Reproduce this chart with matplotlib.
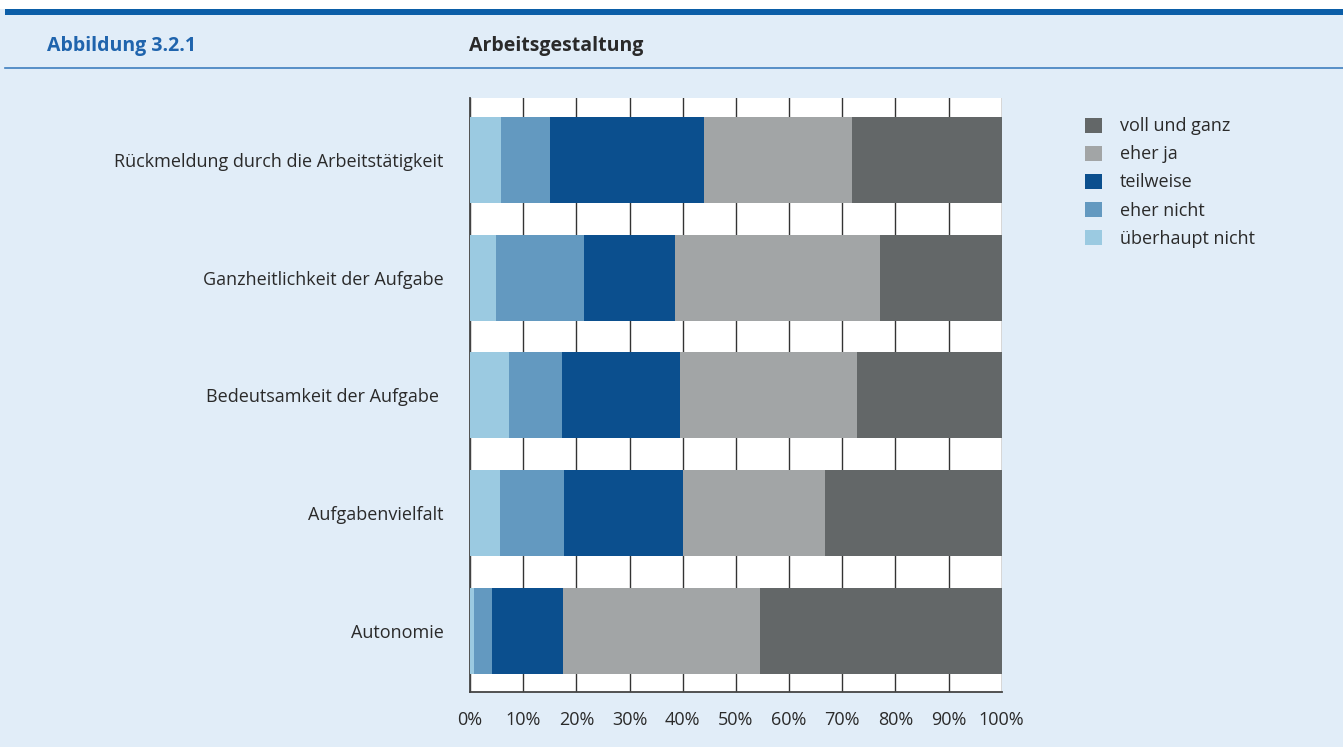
import matplotlib
matplotlib.use("Agg")
import matplotlib.pyplot as plt
from matplotlib.patches import Rectangle
from matplotlib.lines import Line2D

plt.rcParams['font.family'] = ['Open Sans', 'DejaVu Sans']

categories = ["Rückmeldung durch die Arbeitstätigkeit",
              "Ganzheitlichkeit der Aufgabe",
              "Bedeutsamkeit der Aufgabe ",
              "Aufgabenvielfalt",
              "Autonomie"]
series_names = ["überhaupt nicht", "eher nicht", "teilweise", "eher ja", "voll und ganz"]
ueberhaupt_nicht = [5.8, 4.9, 7.3, 5.6, 0.8]
eher_nicht = [9.2, 16.5, 10.0, 12.1, 3.3]
teilweise = [29.0, 17.2, 22.2, 22.4, 13.4]
eher_ja = [27.8, 38.5, 33.3, 26.7, 37.0]
voll_und_ganz = [28.2, 22.9, 27.2, 33.2, 45.5]
colors = ["#9bcae1", "#6399c0", "#0b4f8e", "#a2a5a6", "#636768"]
xticks = [0, 10, 20, 30, 40, 50, 60, 70, 80, 90, 100]
xticklabels = [f"{v}%" for v in xticks]

W, H = 1343, 747
fig = plt.figure(figsize=(W / 100, H / 100), dpi=100)
fig.patch.set_facecolor("#e1edf8")

# header decorations
fig.add_artist(Rectangle((0, (H - 9) / H), 1, 9 / H, transform=fig.transFigure,
                         facecolor="white", edgecolor="none"))
fig.add_artist(Rectangle((5 / W, (H - 15) / H), 1, 6 / H, transform=fig.transFigure,
                         facecolor="#0b5ea8", edgecolor="none"))
fig.add_artist(Line2D([5 / W, 1], [(H - 68) / H] * 2, transform=fig.transFigure,
                      color="#3f7fbf", linewidth=1.2))
fig.text(47 / W, (H - 46) / H, "Abbildung 3.2.1", color="#1f64ad", fontsize=14,
         fontweight="bold", va="center", ha="left")
fig.text(469 / W, (H - 46) / H, "Arbeitsgestaltung", color="#2a2a2a", fontsize=14,
         fontweight="bold", va="center", ha="left")

ax = fig.add_axes([470 / W, (H - 692) / H, (1001.7 - 470) / W, (692 - 98) / H])
ax.set_facecolor("white")

series = [ueberhaupt_nicht, eher_nicht, teilweise, eher_ja, voll_und_ganz]
ypos = list(range(len(categories)))
left = [0.0] * len(categories)
handles = []
for name, vals, col in zip(series_names, series, colors):
    b = ax.barh(ypos, vals, left=left, height=0.73, color=col, edgecolor="none",
                label=name, zorder=3)
    handles.append(b)
    left = [l + v for l, v in zip(left, vals)]

ax.set_xlim(0, 100)
ax.set_ylim(4.52, -0.527)
ax.set_yticks(ypos)
ax.set_yticklabels(categories, fontsize=13, color="#2a2a2a")
ax.set_xticks(xticks)
ax.set_xticklabels(xticklabels, fontsize=13, color="#2a2a2a")
ax.tick_params(axis="both", length=0)
ax.tick_params(axis="y", pad=19)
ax.tick_params(axis="x", pad=14)
ax.xaxis.grid(True, color="#333333", linewidth=1.0)
ax.set_axisbelow(True)
for s in ["top", "right"]:
    ax.spines[s].set_visible(False)
for s in ["left", "bottom"]:
    ax.spines[s].set_color("#444444")
    ax.spines[s].set_linewidth(1.3)

leg = fig.legend(handles[::-1], series_names[::-1], loc="upper left",
                 bbox_to_anchor=(1069 / W, (H - 101) / H), frameon=False,
                 fontsize=13, handlelength=0.9, handleheight=0.9,
                 handletextpad=1.0, labelspacing=0.56)
for t in leg.get_texts():
    t.set_color("#2a2a2a")

fig.savefig("out.png", dpi=100, facecolor=fig.get_facecolor())
